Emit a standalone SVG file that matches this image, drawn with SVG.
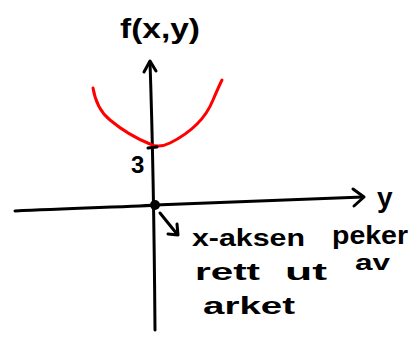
<svg xmlns="http://www.w3.org/2000/svg" width="410" height="356" viewBox="0 0 410 356">
<style>
.ax{fill:none;stroke:#000;stroke-width:3;stroke-linecap:round;stroke-linejoin:round}
.cv{fill:none;stroke:#f00;stroke-width:3;stroke-linecap:round;stroke-linejoin:round}
.t{font-family:"Liberation Sans",Arial,sans-serif;fill:#000;font-weight:bold}
</style>
<rect width="410" height="356" fill="#fff"/>
<g id="connectors">
<path class="ax" d="M15,211 C80,208 150,206 155,205 C230,202 300,199 363,197"/>
<path class="ax" d="M353,189 L364,197 L354,206"/>
<path class="ax" d="M150,62 C152,120 154,200 155,330"/>
<path class="ax" d="M144,72 L150,61 L156,71"/>
<path class="ax" d="M160,213 L177,234"/>
<path class="ax" d="M177,224 L178,235 L168,234"/>
</g>
<g id="origin"><circle cx="155" cy="205" r="5" fill="#000"/></g>
<g id="curve">
<path class="cv" d="M93,88 C95,100 100,112 110,120 C122,130 135,138 150,144 C156,147 162,147 170,143 C190,133 205,120 213,100 C216,93 219,86 222,80"/>
<path class="ax" d="M148,148 L157,147"/>
</g>
<g id="label-f"><text class="t" x="120" y="38" font-size="28" textLength="80" lengthAdjust="spacingAndGlyphs">f(x,y)</text></g>
<g id="label-y"><text class="t" x="377" y="207" font-size="28">y</text></g>
<g id="label-3"><text class="t" x="131" y="173" font-size="24">3</text></g>
<g id="note">
<text class="t" x="192" y="246" font-size="24" textLength="113" lengthAdjust="spacingAndGlyphs">x-aksen</text>
<text class="t" x="332" y="244" font-size="26" textLength="76" lengthAdjust="spacingAndGlyphs">peker</text>
<text class="t" x="195" y="280" font-size="24" textLength="65" lengthAdjust="spacingAndGlyphs">rett</text>
<text class="t" x="285" y="280" font-size="24" textLength="42" lengthAdjust="spacingAndGlyphs">ut</text>
<text class="t" x="355" y="270" font-size="22" textLength="35" lengthAdjust="spacingAndGlyphs">av</text>
<text class="t" x="203" y="314" font-size="24" textLength="92" lengthAdjust="spacingAndGlyphs">arket</text>
</g>
</svg>
